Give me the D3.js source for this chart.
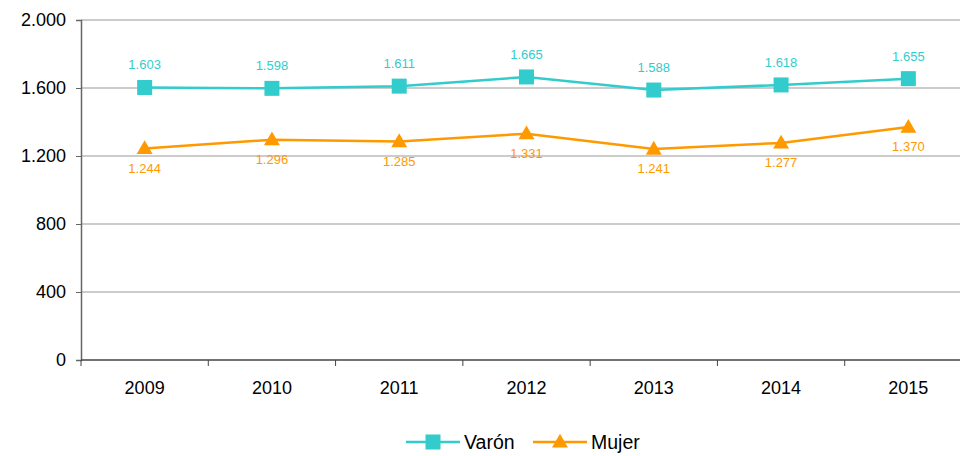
<!DOCTYPE html>
<html>
<head>
<meta charset="utf-8">
<script src="https://cdn.jsdelivr.net/npm/d3@7"></script>
<style>
  body { margin: 0; background: #fff; }
  svg { display: block; font-family: "Liberation Sans", Arial, sans-serif; }
</style>
</head>
<body>
<div id="chart"></div>
<script>
var years = ["2009", "2010", "2011", "2012", "2013", "2014", "2015"];
var varon = [1603, 1598, 1611, 1665, 1588, 1618, 1655];
var mujer = [1244, 1296, 1285, 1331, 1241, 1277, 1370];
var yTicks = [0, 400, 800, 1200, 1600, 2000];

var width = 960, height = 456;
var cyan = "#33CCCC", orange = "#FF9900";

var locale = d3.formatLocale({ decimal: ",", thousands: ".", grouping: [3], currency: ["", "€"] });
var fmt = locale.format(",d");

var svg = d3.select("#chart").append("svg")
  .attr("width", width)
  .attr("height", height);

var x = d3.scaleBand().domain(years).range([81, 972]);
var y = d3.scaleLinear().domain([0, 2000]).range([360, 20]);

// gridlines
svg.append("g").selectAll("line")
  .data(yTicks.filter(d => d > 0))
  .join("line")
  .attr("x1", 81).attr("x2", 972)
  .attr("y1", d => y(d)).attr("y2", d => y(d))
  .attr("stroke", "#999").attr("stroke-width", 1);

// y axis
var yAxis = svg.append("g")
  .attr("transform", "translate(81,0)")
  .call(d3.axisLeft(y).tickValues(yTicks).tickSize(5).tickPadding(10).tickFormat(fmt));
yAxis.select(".domain").attr("stroke", "#666").attr("stroke-width", 1.5);
yAxis.selectAll(".tick line").attr("stroke", "#666");
yAxis.selectAll("text").attr("font-size", "18px").attr("fill", "#000")
  .attr("font-family", "Liberation Sans, Arial, sans-serif");

// x axis with ticks at band boundaries
var xg = svg.append("g");
xg.append("line")
  .attr("x1", 81).attr("x2", 972)
  .attr("y1", 360).attr("y2", 360)
  .attr("stroke", "#444").attr("stroke-width", 1.5);
xg.selectAll(".xt")
  .data(years)
  .join("line")
  .attr("class", "xt")
  .attr("x1", d => x(d)).attr("x2", d => x(d))
  .attr("y1", 360).attr("y2", 366)
  .attr("stroke", "#444");
xg.selectAll("text")
  .data(years)
  .join("text")
  .attr("x", d => x(d) + x.bandwidth() / 2)
  .attr("y", 394)
  .attr("text-anchor", "middle")
  .attr("font-size", "18px")
  .text(d => d);

var cx = d => x(d) + x.bandwidth() / 2;
var line = d3.line().x((d, i) => cx(years[i])).y(d => y(d));

// Varón
svg.append("path")
  .datum(varon)
  .attr("d", line)
  .attr("fill", "none").attr("stroke", cyan).attr("stroke-width", 2.5);
svg.append("g").selectAll("rect")
  .data(varon)
  .join("rect")
  .attr("x", (d, i) => cx(years[i]) - 7.5)
  .attr("y", d => y(d) - 7.5)
  .attr("width", 15).attr("height", 15)
  .attr("fill", cyan);
svg.append("g").selectAll("text")
  .data(varon)
  .join("text")
  .attr("x", (d, i) => cx(years[i]))
  .attr("y", d => y(d) - 18)
  .attr("text-anchor", "middle")
  .attr("font-size", "13px")
  .attr("fill", cyan)
  .text(d => fmt(d));

// Mujer
var tri = d3.symbol().type(d3.symbolTriangle).size(110);
svg.append("path")
  .datum(mujer)
  .attr("d", line)
  .attr("fill", "none").attr("stroke", orange).attr("stroke-width", 2.5);
svg.append("g").selectAll("path")
  .data(mujer)
  .join("path")
  .attr("d", tri)
  .attr("transform", (d, i) => "translate(" + cx(years[i]) + "," + (y(d) + 1) + ")")
  .attr("fill", orange);
svg.append("g").selectAll("text")
  .data(mujer)
  .join("text")
  .attr("x", (d, i) => cx(years[i]))
  .attr("y", d => y(d) + 24)
  .attr("text-anchor", "middle")
  .attr("font-size", "13px")
  .attr("fill", orange)
  .text(d => fmt(d));

// legend
var legend = [
  { name: "Varón", color: cyan, shape: "square", x: 406 },
  { name: "Mujer", color: orange, shape: "triangle", x: 533 }
];
var lg = svg.append("g").attr("transform", "translate(0,442)");
legend.forEach(function (l) {
  lg.append("line")
    .attr("x1", l.x).attr("x2", l.x + 54)
    .attr("y1", 0).attr("y2", 0)
    .attr("stroke", l.color).attr("stroke-width", 2.5);
  if (l.shape === "square") {
    lg.append("rect")
      .attr("x", l.x + 27 - 7.5).attr("y", -7.5)
      .attr("width", 15).attr("height", 15)
      .attr("fill", l.color);
  } else {
    lg.append("path")
      .attr("d", tri)
      .attr("transform", "translate(" + (l.x + 27) + ",1)")
      .attr("fill", l.color);
  }
  lg.append("text")
    .attr("x", l.x + 58)
    .attr("y", 7)
    .attr("font-size", "19.5px")
    .text(l.name);
});
</script>
</body>
</html>
